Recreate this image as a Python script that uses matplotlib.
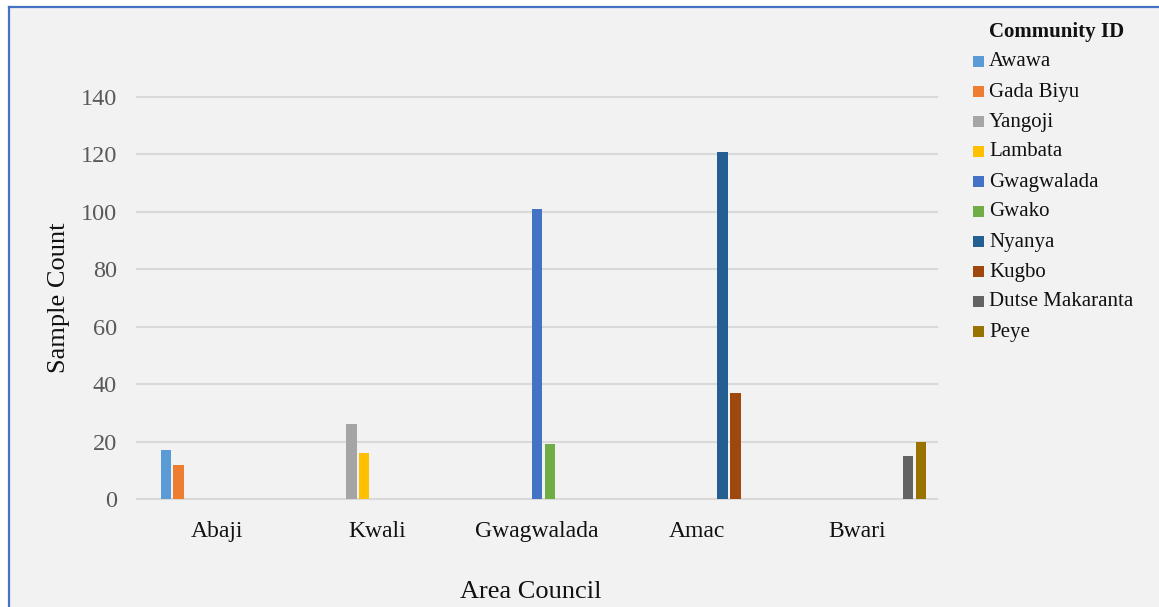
import matplotlib
matplotlib.use("Agg")
import matplotlib.pyplot as plt
from matplotlib.patches import Rectangle
from matplotlib.lines import Line2D

# Area councils (x categories) and community series
councils = ["Abaji", "Kwali", "Gwagwalada", "Amac", "Bwari"]
communities = ["Awawa", "Gada Biyu", "Yangoji", "Lambata", "Gwagwalada",
               "Gwako", "Nyanya", "Kugbo", "Dutse Makaranta", "Peye"]
# Sample counts per community, one value per council (0 = not sampled there)
awawa = [17, 0, 0, 0, 0]
gada_biyu = [12, 0, 0, 0, 0]
yangoji = [0, 26, 0, 0, 0]
lambata = [0, 16, 0, 0, 0]
gwagwalada = [0, 0, 101, 0, 0]
gwako = [0, 0, 19, 0, 0]
nyanya = [0, 0, 0, 121, 0]
kugbo = [0, 0, 0, 37, 0]
dutse_makaranta = [0, 0, 0, 0, 15]
peye = [0, 0, 0, 0, 20]
series = [awawa, gada_biyu, yangoji, lambata, gwagwalada,
          gwako, nyanya, kugbo, dutse_makaranta, peye]
colors = ["#5B9BD5", "#ED7D31", "#A5A5A5", "#FFC000", "#4472C4",
          "#70AD47", "#255E91", "#9E480E", "#636363", "#997300"]
yticks = [0, 20, 40, 60, 80, 100, 120, 140]

plt.rcParams["font.family"] = ["Liberation Serif", "DejaVu Serif"]

W, H = 1159, 607
fig = plt.figure(figsize=(W / 100, H / 100), dpi=100, facecolor="white")


def fx(px):
    return px / W


def fy(py):
    return 1 - py / H


# chart area background and its frame
fig.patches.append(Rectangle((fx(8.5), 0), 1 - fx(8.5), fy(6.5), transform=fig.transFigure,
                             facecolor="#F2F2F2", edgecolor="none", zorder=-10))
fig.lines.append(Line2D([fx(8.5), fx(8.5)], [0, fy(6.5)], transform=fig.transFigure,
                        color="#4472C4", lw=1.6, zorder=-5))
fig.lines.append(Line2D([fx(8.5), 1], [fy(6.5), fy(6.5)], transform=fig.transFigure,
                        color="#4472C4", lw=1.6, zorder=-5))

ax = fig.add_axes([fx(137), fy(499), fx(937) - fx(137), fy(97) - fy(499)])
ax.set_facecolor("none")

pitch = 0.08
width = 0.066
for j, (vals, col) in enumerate(zip(series, colors)):
    xs = [i - 0.32 + pitch * j for i in range(len(councils))]
    ax.bar(xs, vals, width=width, color=col, zorder=3)

ax.set_xlim(-0.5, len(councils) - 0.5)
ax.set_ylim(0, 140)
ax.set_yticks(yticks)
ax.set_yticklabels([str(t) for t in yticks], fontsize=17.5, color="#595959")
ax.set_xticks(range(len(councils)))
ax.set_xticklabels(councils, fontsize=17, color="#111111")
ax.tick_params(axis="both", length=0)
ax.tick_params(axis="y", pad=14.5)
ax.tick_params(axis="x", pad=16)
for s in ax.spines.values():
    s.set_visible(False)
for t in yticks:
    ax.axhline(t, color="#D9D9D9", lw=1.5, zorder=1, clip_on=False)

fig.text(fx(59), fy(298), "Sample Count", fontsize=19, color="#111111",
         ha="center", va="center", rotation=90)
fig.text(fx(531), fy(592), "Area Council", fontsize=19, color="#111111",
         ha="center", va="center")

# legend
fig.text(fx(1057), fy(32), "Community ID", fontsize=15, fontweight="bold",
         color="#111111", ha="center", va="center")
for k, (name, col) in enumerate(zip(communities, colors)):
    yc = 62 + 30 * k
    fig.patches.append(Rectangle((fx(973), fy(yc + 5)), fx(11), 11 / H,
                                 transform=fig.transFigure, facecolor=col,
                                 edgecolor="none"))
    fig.text(fx(989), fy(yc), name, fontsize=15, color="#111111",
             ha="left", va="center")

fig.savefig("out.png", dpi=100, facecolor=fig.get_facecolor())
